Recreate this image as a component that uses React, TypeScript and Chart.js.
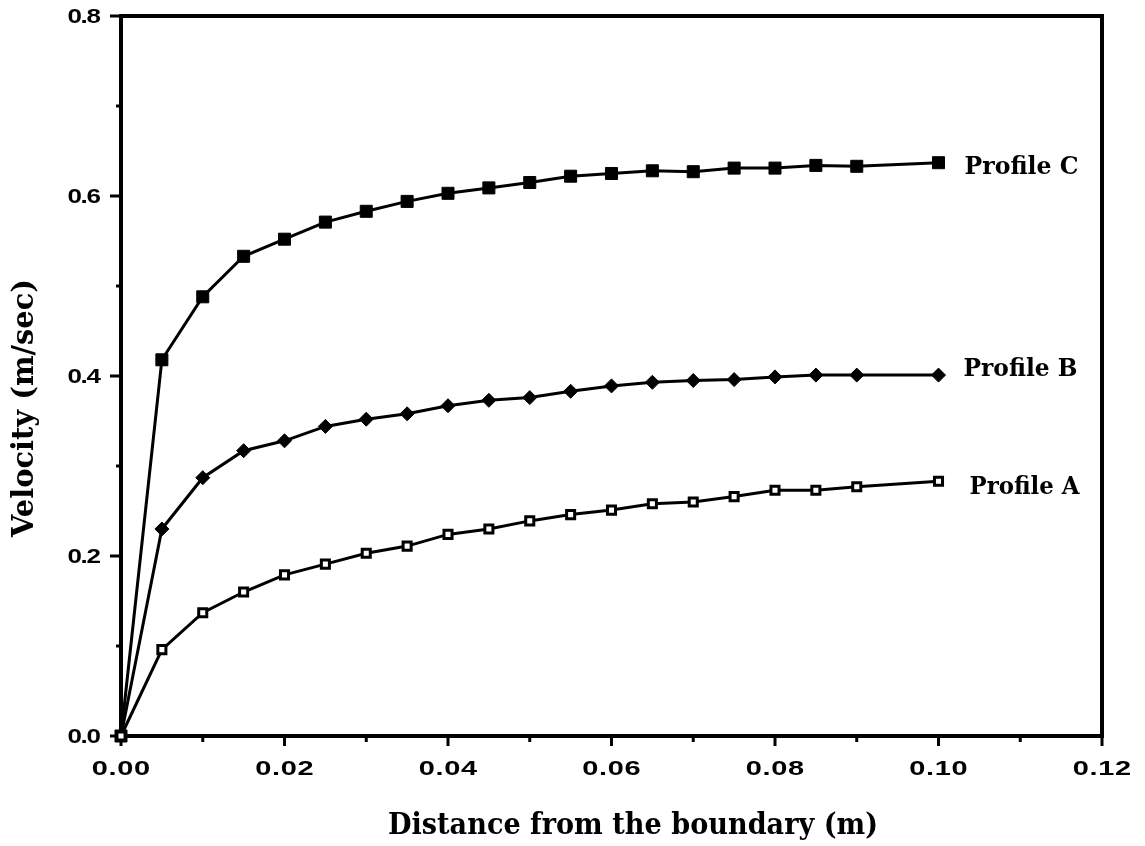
import React, { useEffect, useRef } from 'react';
import { Chart, registerables } from 'chart.js';

Chart.register(...registerables);

// ---- data ----
const distance = [0, 0.005, 0.01, 0.015, 0.02, 0.025, 0.03, 0.035, 0.04, 0.045, 0.05, 0.055, 0.06, 0.065, 0.07, 0.075, 0.08, 0.085, 0.09, 0.1];
const profileA = [0, 0.096, 0.137, 0.160, 0.179, 0.191, 0.203, 0.211, 0.224, 0.230, 0.239, 0.246, 0.251, 0.258, 0.260, 0.266, 0.273, 0.273, 0.277, 0.283];
const profileB = [0, 0.230, 0.287, 0.317, 0.328, 0.344, 0.352, 0.358, 0.367, 0.373, 0.376, 0.383, 0.389, 0.393, 0.395, 0.396, 0.399, 0.401, 0.401, 0.401];
const profileC = [0, 0.418, 0.488, 0.533, 0.552, 0.571, 0.583, 0.594, 0.603, 0.609, 0.615, 0.622, 0.625, 0.628, 0.627, 0.631, 0.631, 0.634, 0.633, 0.637];
const seriesLabels = ['Profile A', 'Profile B', 'Profile C'];

const xMajorTicks = [0, 0.02, 0.04, 0.06, 0.08, 0.1, 0.12];
const xMinorTicks = [0.01, 0.03, 0.05, 0.07, 0.09, 0.11];
const xTickLabels = ['0.00', '0.02', '0.04', '0.06', '0.08', '0.10', '0.12'];
const yMajorTicks = [0, 0.2, 0.4, 0.6, 0.8];
const yMinorTicks = [0.1, 0.3, 0.5, 0.7];
const yTickLabels = ['0.0', '0.2', '0.4', '0.6', '0.8'];

const xTitle = 'Distance from the boundary (m)';
const yTitle = 'Velocity (m/sec)';

const W = 1145;
const H = 846;

function drawStretched(
  ctx: CanvasRenderingContext2D,
  text: string,
  ax: number,
  cy: number,
  sx: number,
  spacing: number,
  align: 'center' | 'right'
) {
  (ctx as any).letterSpacing = '0px';
  const w0 = ctx.measureText(text).width;
  const total = w0 + spacing * (text.length - 1);
  ctx.save();
  ctx.translate(ax, cy);
  ctx.scale(sx, 1);
  (ctx as any).letterSpacing = spacing + 'px';
  ctx.textAlign = 'left';
  ctx.textBaseline = 'middle';
  const x0 = align === 'center' ? -total / 2 : -total;
  ctx.fillText(text, x0, 0);
  ctx.restore();
  (ctx as any).letterSpacing = '0px';
}

function fitText(ctx: CanvasRenderingContext2D, text: string, cx: number, cy: number, width: number, font: string) {
  ctx.font = font;
  const w = ctx.measureText(text).width;
  ctx.save();
  ctx.translate(cx, cy);
  ctx.scale(width / w, 1);
  ctx.textAlign = 'center';
  ctx.textBaseline = 'middle';
  ctx.fillText(text, 0, 0);
  ctx.restore();
}

const framePlugin = {
  id: 'framePlugin',
  beforeDatasetsDraw(chart: any) {
    const { ctx, chartArea, scales } = chart;
    const { left, right, top, bottom } = chartArea;
    const xs = scales.x;
    const ys = scales.y;
    ctx.save();
    ctx.fillStyle = '#000';
    ctx.strokeStyle = '#000';
    ctx.lineWidth = 4;
    ctx.strokeRect(left, top, right - left, bottom - top);

    ctx.lineWidth = 3;
    ctx.beginPath();
    xMajorTicks.forEach((v) => {
      const px = xs.getPixelForValue(v);
      ctx.moveTo(px, bottom);
      ctx.lineTo(px, bottom + 10);
    });
    xMinorTicks.forEach((v) => {
      const px = xs.getPixelForValue(v);
      ctx.moveTo(px, bottom);
      ctx.lineTo(px, bottom + 6);
    });
    yMajorTicks.forEach((v) => {
      const py = ys.getPixelForValue(v);
      ctx.moveTo(left, py);
      ctx.lineTo(left - 11, py);
    });
    yMinorTicks.forEach((v) => {
      const py = ys.getPixelForValue(v);
      ctx.moveTo(left, py);
      ctx.lineTo(left - 5, py);
    });
    ctx.stroke();

    ctx.font = 'bold 21px "Liberation Sans", Arial, sans-serif';
    xMajorTicks.forEach((v, i) => {
      drawStretched(ctx, xTickLabels[i], xs.getPixelForValue(v), bottom + 33, 1.38, 0.5, 'center');
    });
    ctx.font = 'bold 20px "Liberation Sans", Arial, sans-serif';
    yMajorTicks.forEach((v, i) => {
      drawStretched(ctx, yTickLabels[i], left - 20, ys.getPixelForValue(v) + 1, 1.3, -1, 'right');
    });

    // axis titles
    fitText(ctx, xTitle, 633, 826, 490, 'bold 30px "DejaVu Serif", serif');
    ctx.save();
    ctx.translate(25, 408);
    ctx.rotate(-Math.PI / 2);
    fitText(ctx, yTitle, 0, 0, 258, 'bold 30px "DejaVu Serif", serif');
    ctx.restore();
    ctx.restore();
  },
  afterDatasetsDraw(chart: any) {
    const { ctx, scales } = chart;
    const xs = scales.x;
    const ys = scales.y;
    const series = [profileA, profileB, profileC];
    const dx = [31, 25, 26];
    const dy = [6, -6, 5];
    ctx.save();
    ctx.fillStyle = '#000';
    series.forEach((s, i) => {
      const px = xs.getPixelForValue(distance[distance.length - 1]);
      const py = ys.getPixelForValue(s[s.length - 1]);
      ctx.font = 'bold 25px "DejaVu Serif", serif';
      const w = ctx.measureText(seriesLabels[i]).width;
      const target = i === 0 ? 110 : 114;
      ctx.save();
      ctx.translate(px + dx[i], py + dy[i]);
      ctx.scale(target / w, 1);
      ctx.textAlign = 'left';
      ctx.textBaseline = 'middle';
      ctx.fillText(seriesLabels[i], 0, 0);
      ctx.restore();
    });
    ctx.restore();
  },
};

export default function App() {
  const ref = useRef<HTMLCanvasElement | null>(null);
  useEffect(() => {
    const canvas = ref.current;
    if (!canvas) return;
    const toPoints = (ys: number[]) => distance.map((x, i) => ({ x, y: ys[i] }));
    const chart = new Chart(canvas, {
      type: 'line',
      data: {
        datasets: [
          {
            label: seriesLabels[0],
            data: toPoints(profileA),
            borderColor: '#000',
            borderWidth: 3,
            pointStyle: 'rect',
            pointRadius: 5.7,
            pointBorderWidth: 3,
            pointBackgroundColor: '#fff',
            pointBorderColor: '#000',
            clip: false,
          },
          {
            label: seriesLabels[1],
            data: toPoints(profileB),
            borderColor: '#000',
            borderWidth: 3,
            pointStyle: 'rectRot',
            pointRadius: 7,
            pointBorderWidth: 1,
            pointBackgroundColor: '#000',
            pointBorderColor: '#000',
            clip: false,
          },
          {
            label: seriesLabels[2],
            data: toPoints(profileC),
            borderColor: '#000',
            borderWidth: 3,
            pointStyle: 'rect',
            pointRadius: 8.5,
            pointBorderWidth: 1,
            pointBackgroundColor: '#000',
            pointBorderColor: '#000',
            clip: false,
          },
        ] as any,
      },
      options: {
        responsive: false,
        animation: false,
        events: [],
        layout: { padding: { top: 16, right: 43, left: 0, bottom: 0 } },
        plugins: { legend: { display: false }, tooltip: { enabled: false } },
        elements: { line: { tension: 0 } },
        scales: {
          x: {
            type: 'linear',
            min: 0,
            max: 0.12,
            grid: { display: false },
            border: { display: false },
            ticks: { display: false },
            afterFit: (s: any) => { s.height = 110; },
          },
          y: {
            type: 'linear',
            min: 0,
            max: 0.8,
            grid: { display: false },
            border: { display: false },
            ticks: { display: false },
            afterFit: (s: any) => { s.width = 121; },
          },
        },
      },
      plugins: [framePlugin],
    });
    return () => chart.destroy();
  }, []);
  return (
    <canvas
      ref={ref}
      width={W}
      height={H}
      style={{ position: 'fixed', left: 0, top: 0, width: W, height: H, background: '#fff' }}
    />
  );
}
